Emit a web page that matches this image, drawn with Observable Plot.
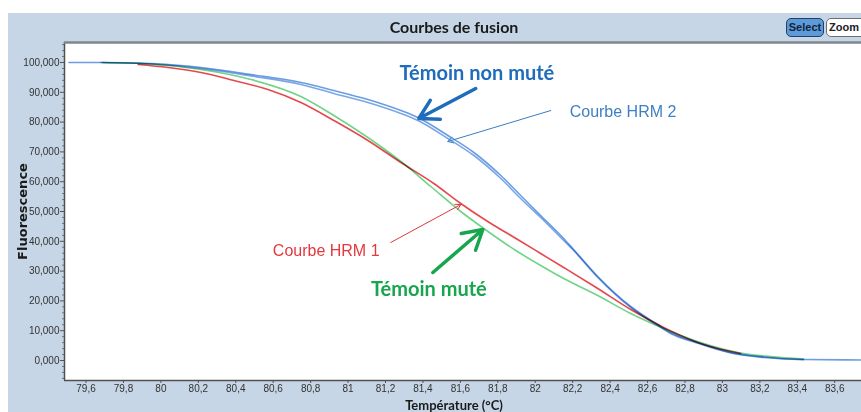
<!DOCTYPE html>
<html>
<head>
<meta charset="utf-8">
<script src="https://cdn.jsdelivr.net/npm/d3@7"></script>
<script src="https://cdn.jsdelivr.net/npm/@observablehq/plot@0.6"></script>
<style>
  html, body { margin: 0; padding: 0; background: #ffffff; }
  #wrap { position: relative; width: 861px; height: 412px; overflow: hidden; }
  #panel { position: absolute; left: 8px; top: 13px; right: 0; bottom: 0; background: #c6d6e6; }
  #chart { position: absolute; left: 0; top: 0; }
  .btn { position: absolute; top: 18px; height: 19px; border-radius: 5px; font: bold 11px "Liberation Sans", Arial, sans-serif; line-height: 17px; box-sizing: border-box; white-space: nowrap; }
  #sel { left: 786px; width: 38px; background: #5d9ad6; border: 1.5px solid #1f3f6f; color: #10233f; text-align: center; }
  #zoom { left: 826px; width: 50px; background: #ffffff; border: 1.5px solid #6f6f6f; color: #222; text-align: left; padding-left: 2px; }
</style>
</head>
<body>
<div id="wrap">
  <div id="panel"></div>
  <div id="chart"></div>
  <div class="btn" id="sel">Select</div>
  <div class="btn" id="zoom">Zoom</div>
</div>
<script>
// ---- Data ----
// Témoin non muté (blue)
const tempNonMute = [79.509, 79.680, 79.947, 80.214, 80.481, 80.748, 80.924, 81.106, 81.282, 81.373, 81.533, 81.672, 81.816, 81.922, 82.029, 82.152, 82.205, 82.334, 82.510, 82.654, 82.723, 82.867, 83.044, 83.220, 83.433, 83.743];
const fluoNonMute = [100.0, 100.0, 99.66, 98.32, 95.97, 93.29, 90.60, 87.58, 83.89, 81.54, 75.50, 69.80, 62.08, 55.37, 48.66, 40.94, 37.25, 28.19, 18.12, 12.08, 9.40, 6.04, 2.68, 1.17, 0.34, 0.17];
// Courbe HRM 2 (blue)
const tempHRM2 = [79.680, 79.947, 80.214, 80.481, 80.748, 80.924, 81.106, 81.282, 81.373, 81.533, 81.672, 81.816, 81.922, 82.029, 82.152, 82.205, 82.334, 82.510, 82.654, 82.723, 82.867, 83.044, 83.220, 83.433];
const fluoHRM2 = [100.0, 99.5, 98.0, 95.5, 92.62, 89.60, 86.58, 82.89, 80.54, 74.50, 68.79, 61.07, 54.36, 47.99, 40.27, 36.91, 27.85, 17.79, 11.74, 9.06, 5.80, 2.50, 1.00, 0.30];
// Courbe HRM 1 (red)
const tempHRM1 = [79.878, 80.038, 80.214, 80.390, 80.572, 80.748, 80.924, 81.106, 81.282, 81.458, 81.602, 81.746, 81.906, 82.029, 82.152, 82.334, 82.510, 82.686, 82.777, 82.883, 83.097];
const fluoHRM1 = [99.33, 98.32, 96.64, 93.96, 90.94, 86.58, 80.54, 73.83, 66.44, 59.40, 52.68, 46.64, 40.60, 35.91, 31.21, 24.16, 17.11, 11.07, 8.39, 5.70, 2.35];
// Témoin muté (green)
const tempMute = [79.691, 79.947, 80.214, 80.481, 80.748, 80.924, 81.106, 81.282, 81.442, 81.602, 81.725, 81.896, 82.029, 82.152, 82.334, 82.510, 82.686, 82.777, 82.883, 83.097, 83.257, 83.433];
const fluoMute = [100.0, 99.50, 97.65, 94.30, 88.59, 82.21, 74.83, 66.78, 58.39, 50.00, 44.30, 36.91, 31.88, 27.52, 21.81, 15.77, 10.74, 8.39, 6.04, 2.52, 1.34, 0.50];

// Axis ticks
const xTicks = [79.6, 79.8, 80, 80.2, 80.4, 80.6, 80.8, 81, 81.2, 81.4, 81.6, 81.8, 82, 82.2, 82.4, 82.6, 82.8, 83, 83.2, 83.4, 83.6];
const yTicks = [0, 10, 20, 30, 40, 50, 60, 70, 80, 90, 100];
const yMinorTicks = [-6, -4, -2, 2, 4, 6, 8, 12, 14, 16, 18, 22, 24, 26, 28, 32, 34, 36, 38, 42, 44, 46, 48, 52, 54, 56, 58, 62, 64, 66, 68, 72, 74, 76, 78, 82, 84, 86, 88, 92, 94, 96, 98, 102, 104, 106];
const xDomain = [79.485, 83.743];
const yDomain = [-6.71, 106.71];

// Annotations
const labelTexts = ["Témoin non muté", "Courbe HRM 2", "Courbe HRM 1", "Témoin muté"];
const labelT = [81.688, 82.184, 80.598, 81.122];
const labelV = [96.3, 83.5, 36.9, 23.8];
const arrowT1 = [81.682, 82.083, 81.228, 81.453];
const arrowV1 = [91.28, 83.89, 39.60, 29.53];
const arrowT2 = [81.378, 81.533, 81.602, 81.720];
const arrowV2 = [81.21, 73.49, 52.35, 43.96];

// ---- Build tables ----
const toRows = (ts, vs, name) => ts.map((t, i) => ({T: t, V: vs[i], serie: name}));
const rowsNonMute = toRows(tempNonMute, fluoNonMute, "Témoin non muté");
const rowsHRM2 = toRows(tempHRM2, fluoHRM2, "Courbe HRM 2");
const rowsHRM1 = toRows(tempHRM1, fluoHRM1, "Courbe HRM 1");
const rowsMute = toRows(tempMute, fluoMute, "Témoin muté");
const labels = labelTexts.map((t, i) => ({text: t, T: labelT[i], V: labelV[i]}));
const arrows = labelTexts.map((t, i) => ({T1: arrowT1[i], V1: arrowV1[i], T2: arrowT2[i], V2: arrowV2[i]}));

const fmtY = d => d.toFixed(3).replace(".", ",");
const fmtX = d => String(+d.toFixed(1)).replace(".", ",");
const lineOpts = {x: "T", y: "V", curve: "monotone-x", strokeWidth: 1.6, mixBlendMode: "multiply"};
const boldFont = "Lato, 'Open Sans', sans-serif";

const chart = Plot.plot({
  width: 861,
  height: 412,
  marginLeft: 64,
  marginRight: 0,
  marginTop: 42,
  marginBottom: 32,
  style: {background: "transparent", fontFamily: "'Liberation Sans', Arial, sans-serif", fontSize: "10px", color: "#333"},
  x: {domain: xDomain},
  y: {domain: yDomain},
  marks: [
    Plot.frame({fill: "white", stroke: null}),
    Plot.axisY(yTicks, {tickSize: 4, tickPadding: 1, tickFormat: fmtY, label: null, stroke: "#555"}),
    Plot.axisY(yMinorTicks, {tickSize: 2, tickFormat: () => "", label: null, stroke: "#777"}),
    Plot.axisX(xTicks, {tickSize: 3, tickPadding: 1, tickFormat: fmtX, label: null, stroke: "#555"}),
    Plot.ruleX([xDomain[0]], {stroke: "#505050", strokeWidth: 1.5}),
    Plot.ruleY([yDomain[0]], {stroke: "#505050", strokeWidth: 1.5}),
    Plot.ruleY([yDomain[1]], {stroke: "#80868e", strokeWidth: 2.5}),
    Plot.line(rowsMute, {...lineOpts, stroke: "#6fd586"}),
    Plot.line(rowsHRM1, {...lineOpts, stroke: "#e5484d"}),
    Plot.line(rowsHRM2, {...lineOpts, stroke: "#7aa8e6"}),
    Plot.line(rowsNonMute, {...lineOpts, stroke: "#6b9de2"}),
    Plot.arrow([arrows[0]], {x1: "T1", y1: "V1", x2: "T2", y2: "V2", stroke: "#1f6cbd", strokeWidth: 3.5, headLength: 11, bend: 0}),
    Plot.arrow([arrows[1]], {x1: "T1", y1: "V1", x2: "T2", y2: "V2", stroke: "#3a7cc2", strokeWidth: 1, headLength: 9, bend: 0}),
    Plot.arrow([arrows[2]], {x1: "T1", y1: "V1", x2: "T2", y2: "V2", stroke: "#e0383e", strokeWidth: 1, headLength: 9, bend: 0}),
    Plot.arrow([arrows[3]], {x1: "T1", y1: "V1", x2: "T2", y2: "V2", stroke: "#17a64e", strokeWidth: 3.5, headLength: 11, bend: 0}),
    Plot.text([labels[0]], {x: "T", y: "V", text: "text", fill: "#1f6cbd", fontSize: 20, fontWeight: "bold", fontFamily: boldFont, textAnchor: "middle"}),
    Plot.text([labels[1]], {x: "T", y: "V", text: "text", fill: "#3f80c4", fontSize: 16, fontFamily: "'Liberation Sans', Arial, sans-serif", textAnchor: "start"}),
    Plot.text([labels[2]], {x: "T", y: "V", text: "text", fill: "#e2383e", fontSize: 16, fontFamily: "'Liberation Sans', Arial, sans-serif", textAnchor: "start"}),
    Plot.text([labels[3]], {x: "T", y: "V", text: "text", fill: "#17a64e", fontSize: 20, fontWeight: "bold", fontFamily: boldFont, textAnchor: "start"}),
    Plot.text(["Courbes de fusion"], {frameAnchor: "top", lineAnchor: "middle", dx: -9, dy: -15, fontSize: 16, fontWeight: "bold", fontFamily: boldFont, fill: "#1a1a1a"}),
    Plot.text(["Température (°C)"], {frameAnchor: "bottom", lineAnchor: "middle", dx: -9, dy: 25, fontSize: 13, fontWeight: "bold", fontFamily: boldFont, fill: "#1a1a1a"}),
    Plot.text(["Fluorescence"], {frameAnchor: "left", textAnchor: "middle", lineAnchor: "middle", dx: -42, dy: 0, rotate: -90, fontSize: 13, fontWeight: "bold", fontFamily: "'DejaVu Sans', sans-serif", fill: "#1a1a1a"})
  ]
});
document.getElementById("chart").appendChild(chart);
</script>
</body>
</html>
